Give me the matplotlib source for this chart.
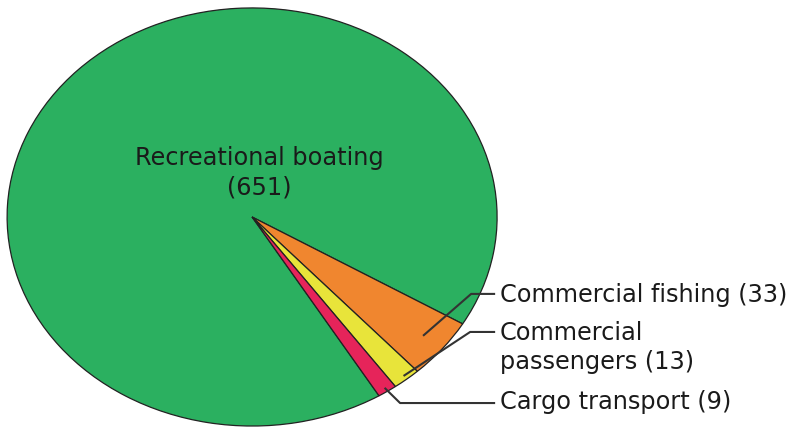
import matplotlib
matplotlib.use("Agg")
import matplotlib.pyplot as plt
import numpy as np

# Vessel category counts
categories = ["Recreational boating", "Commercial fishing", "Commercial\npassengers", "Cargo transport"]
counts = [651, 33, 13, 9]
colors = ["#2bb060", "#f0862f", "#e8e43a", "#e6245a"]

plt.rcParams["font.family"] = ["DejaVu Sans"]

fig = plt.figure(figsize=(8.08, 4.30), dpi=100)
ax = fig.add_axes([0, 0, 1, 1])

start = -58.8
wedges, _ = ax.pie(counts, colors=colors, startangle=start, counterclock=False,
                   radius=1.0, center=(0, 0),
                   wedgeprops=dict(edgecolor="#222222", linewidth=0.9))

# stretch the pie into an ellipse
ax.set_aspect("auto")
ax.set_xlim(-1.029, 2.269)
ax.set_ylim(-1.019, 1.038)
ax.axis("off")

txt_color = "#1a1a1a"
fs = 17.3

# big slice label inside the pie
ax.text(0.03, 0.213, f"{categories[0]}\n({counts[0]})", ha="center", va="center",
        fontsize=fs, color=txt_color, linespacing=1.3)

# mid angles of each wedge
total = sum(counts)
angles = []
a = start
for c in counts:
    span = 360.0 * c / total
    angles.append(a - span / 2)
    a -= span

anchor_r = [None, 0.90, 0.98, 0.98]
elbows = [None, (0.894, -0.368), (0.890, -0.550), (0.604, -0.890)]
label_y = [None, -0.373, -0.624, -0.885]
line_end = 0.992
text_x = 1.012

for i in range(1, 4):
    th = np.deg2rad(angles[i])
    x0, y0 = anchor_r[i] * np.cos(th), anchor_r[i] * np.sin(th)
    ex, ey = elbows[i]
    ax.plot([x0, ex, line_end], [y0, ey, ey], color="#333333", lw=1.5,
            clip_on=False, solid_capstyle="butt")
    ax.text(text_x, label_y[i], f"{categories[i]} ({counts[i]})", ha="left",
            va="center", fontsize=fs, color=txt_color, linespacing=1.3)

fig.savefig("out.png", dpi=100)
